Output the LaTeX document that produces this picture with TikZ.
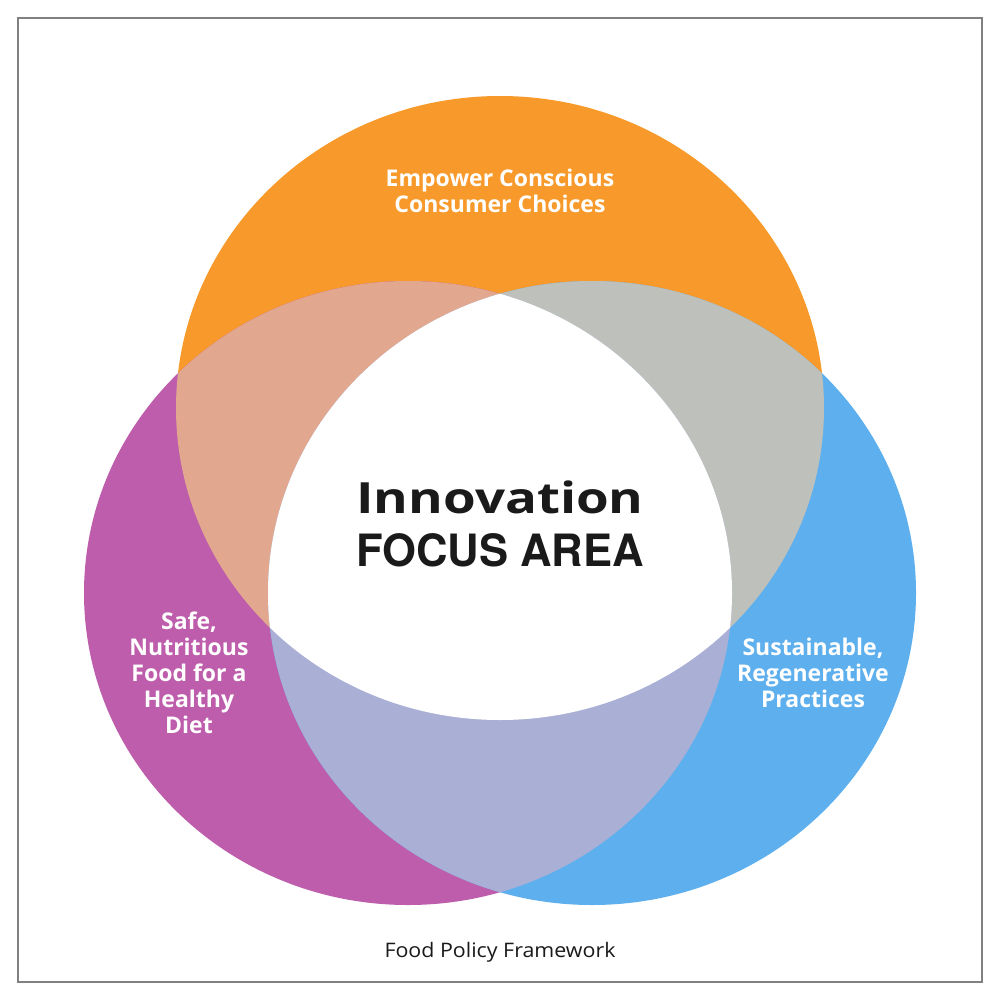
\documentclass[tikz,border=0pt]{standalone}
\usepackage{fontspec}
\usepackage{graphicx}
\setmainfont{Open Sans}
\newfontfamily\herosfont{TeX Gyre Heros}
\definecolor{corange}{HTML}{F79A2B}
\definecolor{cpurple}{HTML}{BE5DAB}
\definecolor{cblue}{HTML}{5EAFED}
\definecolor{csalmon}{HTML}{E2A78F}
\definecolor{cgrey}{HTML}{BEC0BC}
\definecolor{clav}{HTML}{AAAFD6}
\definecolor{cframe}{HTML}{808080}
\definecolor{ctext}{HTML}{1A1A1A}
\begin{document}
\begin{tikzpicture}[x=1pt,y=-1pt,
  lab/.style={text=white, font=\fontsize{23}{26}\selectfont\bfseries, align=center, inner sep=0pt},
  oshape/.style={x radius=324pt, y radius=312pt}]
\useasboundingbox (0,0) rectangle (1000,1000);
\fill[white] (0,0) rectangle (1000,1000);
\draw[cframe, line width=1.5pt] (18,18) rectangle (982,982);
% centres
\coordinate (O) at (500,408);
\coordinate (P) at (408,593);
\coordinate (B) at (592,593);
% single circles
\fill[corange] (O) ellipse [oshape];
\fill[cpurple] (P) ellipse [oshape];
\fill[cblue] (B) ellipse [oshape];
% pairwise overlaps
\begin{scope}
  \clip (O) ellipse [oshape];
  \fill[csalmon] (P) ellipse [oshape];
  \fill[cgrey] (B) ellipse [oshape];
\end{scope}
\begin{scope}
  \clip (P) ellipse [oshape];
  \fill[clav] (B) ellipse [oshape];
\end{scope}
% triple overlap
\begin{scope}
  \clip (O) ellipse [oshape];
  \clip (P) ellipse [oshape];
  \fill[white] (B) ellipse [oshape];
\end{scope}
% labels
\node[lab] (top) at (500,191) {Empower Conscious\\Consumer Choices};
\node[lab] (left) at (189,673) {Safe,\\Nutritious\\Food for a\\Healthy\\Diet};
\node[lab] (right) at (813,673) {Sustainable,\\Regenerative\\Practices};
\node[anchor=base, inner sep=0pt, text=ctext, font=\fontsize{43}{43}\selectfont\bfseries] (inno) at (500,513) {\scalebox{1.23}[1]{Innovation}};
\node[anchor=base, inner sep=0pt, text=ctext, font=\fontsize{44.5}{44.5}\selectfont\herosfont\bfseries] (focus) at (500,566) {\scalebox{0.98}[1]{FOCUS AREA}};
\node[anchor=base, inner sep=0pt, text=ctext, font=\fontsize{20}{20}\selectfont] (cap) at (500,957) {\scalebox{1.07}[1]{Food Policy Framework}};
\end{tikzpicture}
\end{document}
